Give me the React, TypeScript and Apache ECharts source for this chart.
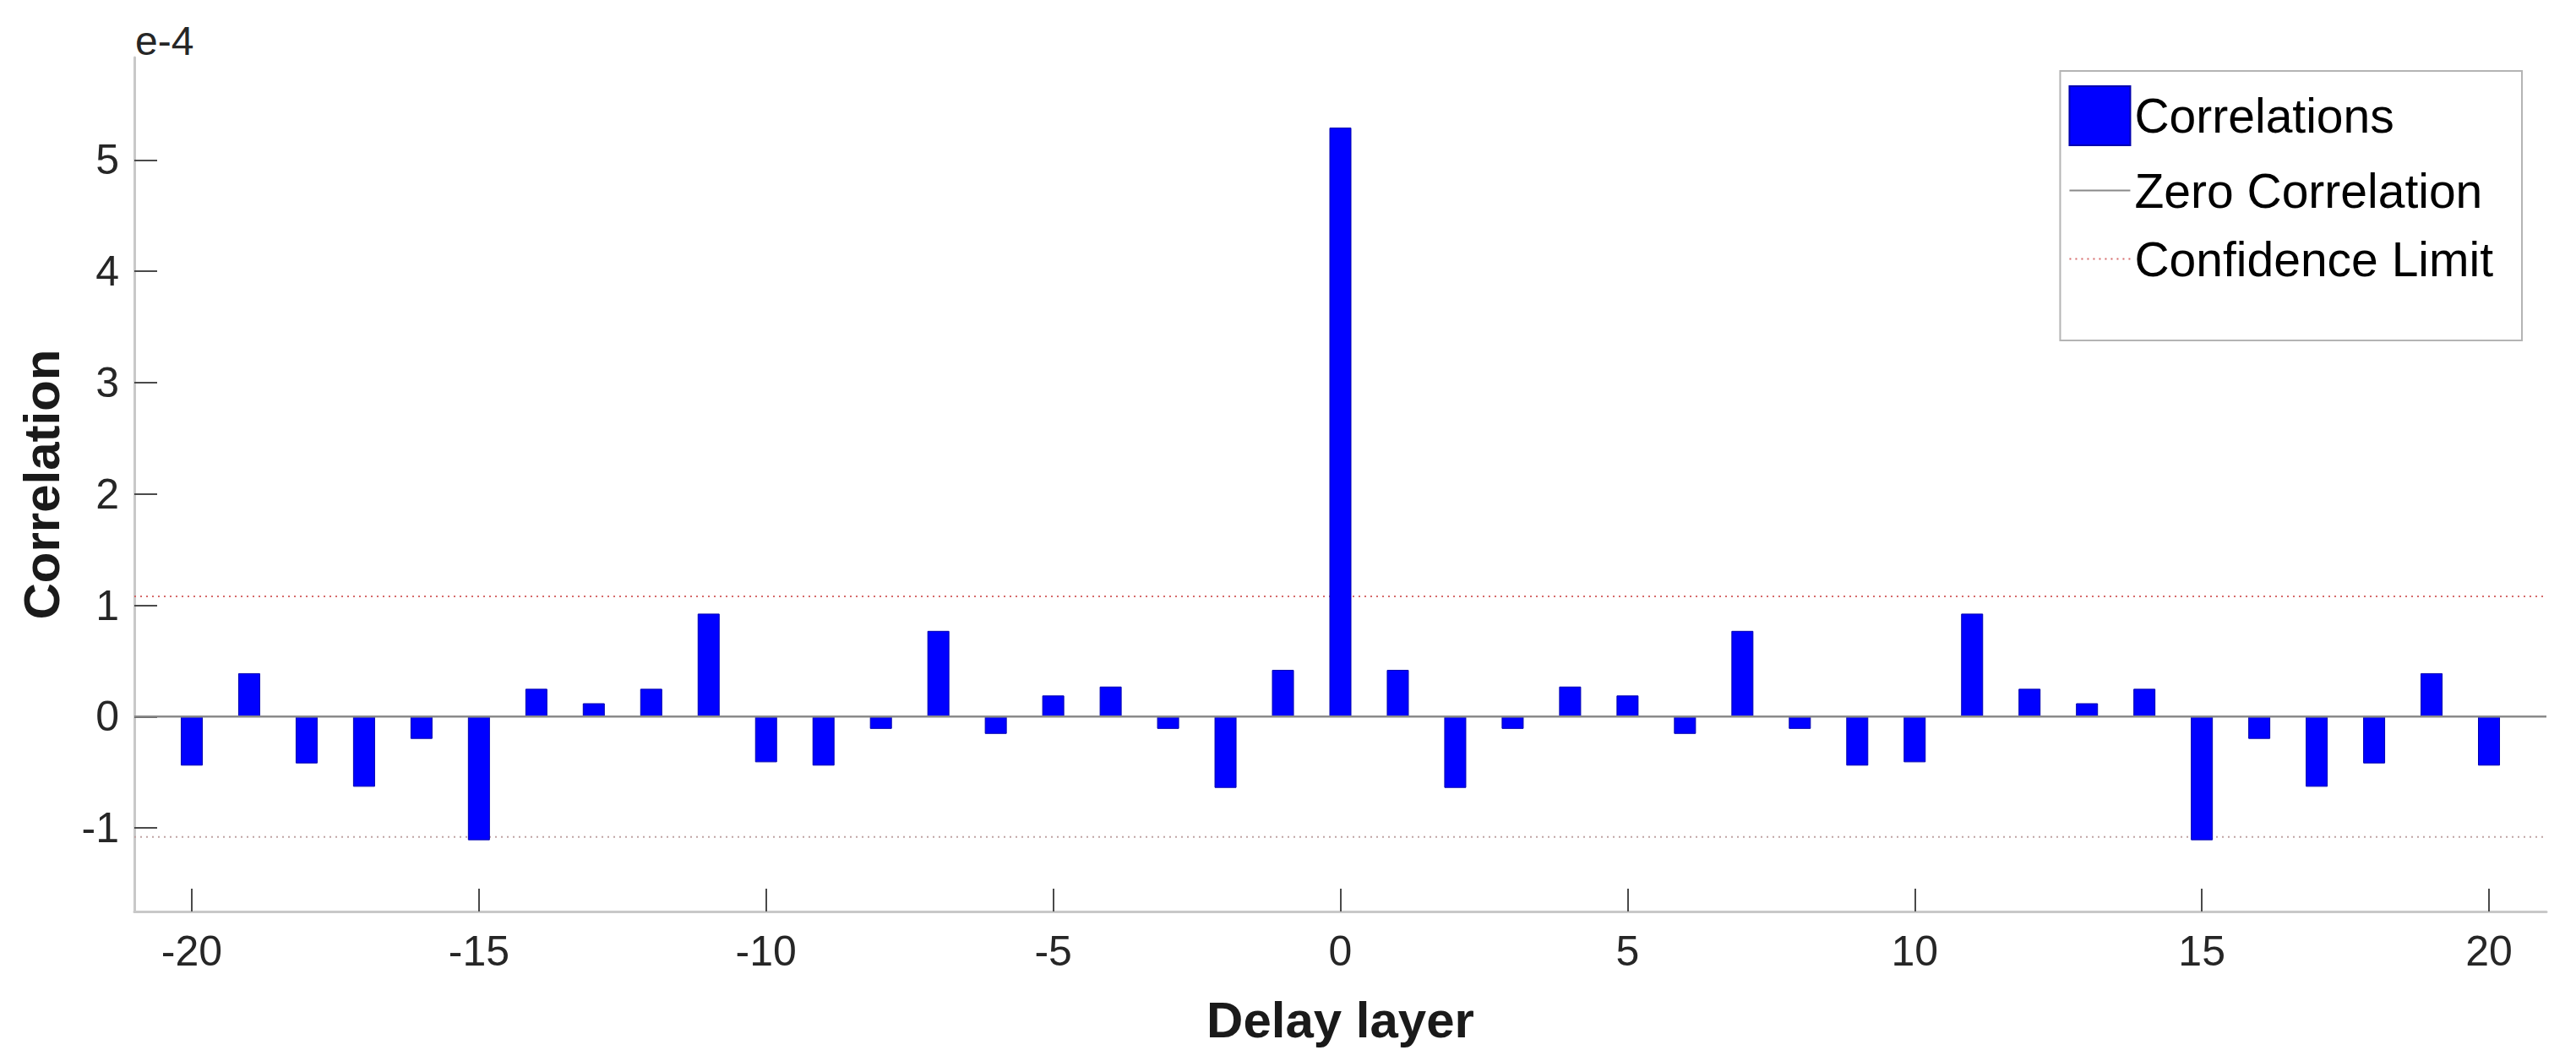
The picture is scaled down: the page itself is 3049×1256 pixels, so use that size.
import React, { useEffect, useRef } from "react";
import * as echarts from "echarts";

// Delay layers (lags)
const lags = [
  -20, -19, -18, -17, -16, -15, -14, -13, -12, -11, -10, -9, -8, -7, -6, -5, -4, -3, -2, -1,
  0, 1, 2, 3, 4, 5, 6, 7, 8, 9, 10, 11, 12, 13, 14, 15, 16, 17, 18, 19, 20,
];
// Correlation values, in units of 1e-4
const correlations = [
  -0.44, 0.39, -0.42, -0.63, -0.2, -1.11, 0.25, 0.12, 0.25, 0.925, -0.41, -0.44, -0.11, 0.77,
  -0.155, 0.19, 0.27, -0.11, -0.64, 0.42, 5.29, 0.42, -0.64, -0.11, 0.27, 0.19, -0.155, 0.77,
  -0.11, -0.44, -0.41, 0.925, 0.25, 0.12, 0.25, -1.11, -0.2, -0.63, -0.42, 0.39, -0.44,
];
const confidenceLimit = 1.08; // units of 1e-4
const xRange = [-21, 21];
const yRange = [-1.75, 5.92];
const xTicks = [-20, -15, -10, -5, 0, 5, 10, 15, 20];
const yTicks = [-1, 0, 1, 2, 3, 4, 5];
const exponentLabel = "e-4";

const FONT = '"Liberation Sans", Arial, Helvetica, sans-serif';

export default function App() {
  const ref = useRef<HTMLDivElement>(null);
  useEffect(() => {
    document.body.style.margin = "0";
    document.body.style.overflow = "hidden";
    if (!ref.current) return;
    const chart = echarts.init(ref.current, undefined, { renderer: "svg" });
    const barData = lags.map((l, i) => [l, correlations[i]]);
    const zeroData = xRange.map((x) => [x, 0]);
    const upperData = xRange.map((x) => [x, confidenceLimit]);
    const lowerData = xRange.map((x) => [x, -confidenceLimit]);
    const axisCommon = {
      axisLine: { show: true, onZero: false, lineStyle: { color: "#c8c8c8", width: 3 } },
      axisTick: { show: true, inside: true, length: 27, lineStyle: { color: "#4a4a4a", width: 2 } },
      splitLine: { show: false },
    };
    chart.setOption({
      animation: false,
      backgroundColor: "#ffffff",
      grid: { left: 159, right: 35, top: 68, bottom: 177, containLabel: false },
      xAxis: {
        type: "value",
        min: xRange[0],
        max: xRange[1],
        ...axisCommon,
        axisTick: { ...axisCommon.axisTick, customValues: xTicks },
        axisLabel: {
          customValues: xTicks,
          formatter: (v: number) => String(v),
          fontSize: 50,
          fontFamily: FONT,
          color: "#262626",
          margin: 22,
        },
        name: "Delay layer",
        nameLocation: "middle",
        nameGap: 98,
        nameTextStyle: { fontSize: 60, fontWeight: "bold", fontFamily: FONT, color: "#1a1a1a" },
      },
      yAxis: {
        type: "value",
        min: yRange[0],
        max: yRange[1],
        ...axisCommon,
        axisTick: { ...axisCommon.axisTick, customValues: yTicks },
        axisLabel: {
          customValues: yTicks,
          formatter: (v: number) => String(v),
          fontSize: 50,
          fontFamily: FONT,
          color: "#262626",
          margin: 18,
        },
        name: "Correlation",
        nameLocation: "middle",
        nameGap: 80,
        nameRotate: 90,
        nameTextStyle: { fontSize: 60, fontWeight: "bold", fontFamily: FONT, color: "#1a1a1a" },
      },
      legend: {
        orient: "vertical",
        right: 64,
        top: 84,
        itemWidth: 72,
        itemHeight: 70,
        itemGap: 24,
        padding: [17, 34, 68, 10],
        borderColor: "#b4b4b4",
        borderWidth: 2,
        backgroundColor: "#ffffff",
        textStyle: { fontSize: 57, fontFamily: FONT, color: "#000000" },
        data: [
          { name: "Correlations", icon: "rect" },
          { name: "Zero Correlation", itemStyle: { opacity: 0 } },
          { name: "Confidence Limit", itemStyle: { opacity: 0 } },
        ],
      },
      graphic: [
        {
          type: "text",
          left: 160,
          top: 24,
          style: { text: exponentLabel, font: `48px ${FONT}`, fill: "#262626" },
        },
      ],
      series: [
        {
          name: "Correlations",
          type: "bar",
          data: barData,
          barWidth: 26,
          itemStyle: { color: "#0000ff", borderColor: "#0000b0", borderWidth: 1 },
          z: 2,
        },
        {
          name: "Zero Correlation",
          type: "line",
          data: zeroData,
          symbol: "none",
          lineStyle: { color: "#8a8a8a", width: 2.5 },
          itemStyle: { color: "#8a8a8a" },
          z: 3,
        },
        {
          name: "Confidence Limit",
          type: "line",
          data: upperData,
          symbol: "none",
          lineStyle: { color: "#d66a6a", width: 2, type: [2, 5] },
          itemStyle: { color: "#d66a6a" },
          z: 1,
        },
        {
          name: "Confidence Limit",
          type: "line",
          data: lowerData,
          symbol: "none",
          lineStyle: { color: "#c0a4a4", width: 2, type: [2, 5] },
          itemStyle: { color: "#c0a4a4" },
          z: 1,
        },
      ],
    });
    return () => chart.dispose();
  }, []);
  return <div ref={ref} style={{ width: 3049, height: 1256 }} />;
}
